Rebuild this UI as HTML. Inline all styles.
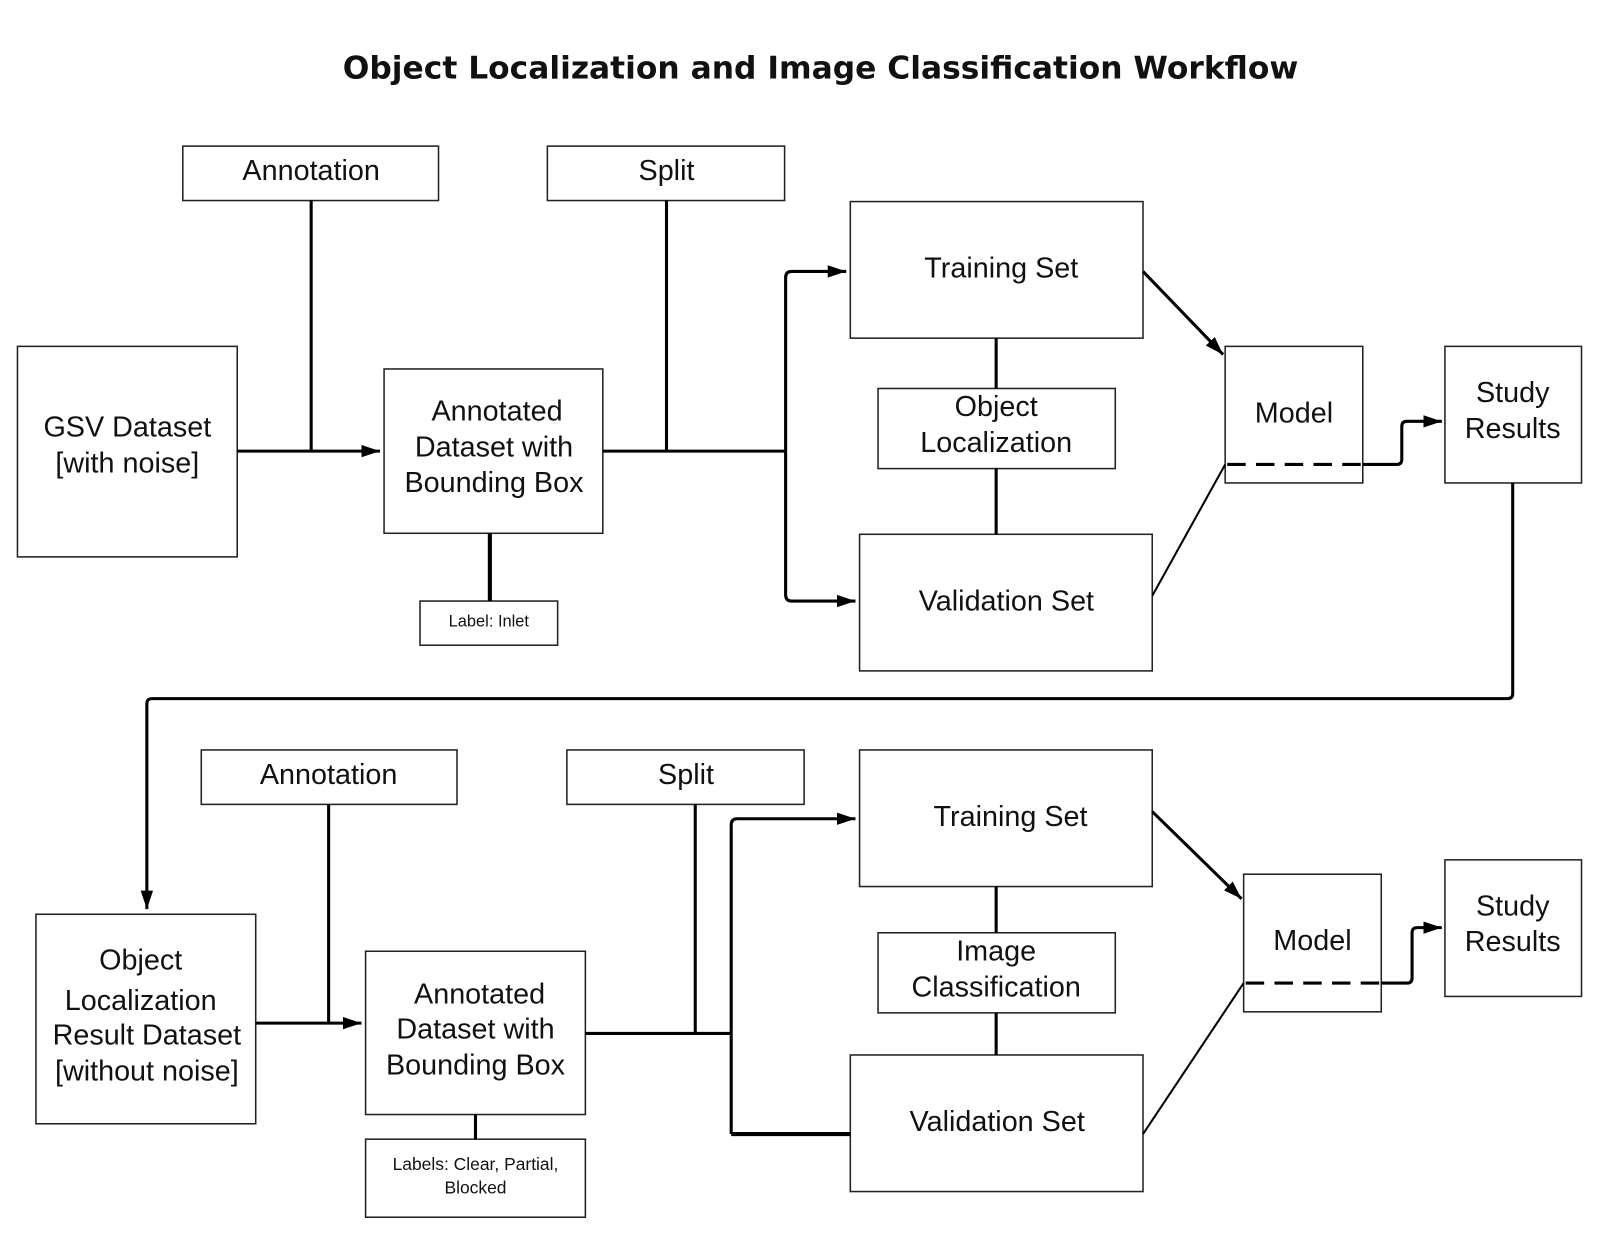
<!DOCTYPE html>
<html><head><meta charset="utf-8"><style>
html,body{margin:0;padding:0;background:#fff;}
svg{display:block;}
text{font-family:"Liberation Sans",sans-serif;fill:#111;text-anchor:middle;}
</style></head><body>
<svg width="1600" height="1236" viewBox="0 0 1558 1203" xmlns="http://www.w3.org/2000/svg">
<defs>
<marker id="b" viewBox="0 0 10 10" refX="10" refY="5" markerWidth="18" markerHeight="12" orient="auto" markerUnits="userSpaceOnUse" preserveAspectRatio="none"><path d="M0,0 L10,5 L0,10z" fill="#000"/></marker></defs>
<text x="799" y="76" style="font-family:'DejaVu Sans','Liberation Sans',sans-serif;font-weight:bold;font-size:30.5px">Object Localization and Image Classification Workflow</text>
<g fill="#fff" stroke="#222" stroke-width="1.5">
<rect x="178" y="142" width="249" height="53"/><rect x="533" y="142" width="231" height="53"/>
<rect x="17" y="337" width="214" height="205"/><rect x="374" y="359" width="213" height="160"/>
<rect x="409" y="585" width="134" height="43"/><rect x="828" y="196" width="285" height="133"/>
<rect x="855" y="378" width="231" height="78"/><rect x="837" y="520" width="285" height="133"/>
<rect x="1193" y="337" width="134" height="133"/><rect x="1407" y="337" width="133" height="133"/>
<rect x="196" y="730" width="249" height="53"/><rect x="552" y="730" width="231" height="53"/>
<rect x="35" y="890" width="214" height="204"/><rect x="356" y="926" width="214" height="159"/>
<rect x="356" y="1109" width="214" height="76"/><rect x="837" y="730" width="285" height="133"/>
<rect x="855" y="908" width="231" height="78"/><rect x="828" y="1027" width="285" height="133"/>
<rect x="1211" y="851" width="134" height="134"/><rect x="1407" y="837" width="133" height="133"/>
</g>
<g fill="none" stroke="#000" stroke-width="3">
<path d="M303 195V439"/><path d="M231 439H370" marker-end="url(#b)"/>
<path d="M649 195V439"/><path d="M587 439H765"/>
<path d="M765 439V270q0-6 6-6H824" marker-end="url(#b)"/><path d="M765 439V579q0 6 6 6H833" marker-end="url(#b)"/>
<path d="M970 329V378M970 456V520"/>
<path d="M1113 264L1191 345" marker-end="url(#b)"/>
<path d="M477 519V585" stroke-width="4"/>
<path d="M1327 452H1360q5 0 5-5V415q0-5 5-5H1404" marker-end="url(#b)"/>
<path d="M1473 470V675q0 5-5 5H148q-5 0-5 5V885" marker-end="url(#b)"/>
<path d="M320 783V996"/><path d="M249 996H352" marker-end="url(#b)"/>
<path d="M677 783V1006"/><path d="M570 1006H712"/>
<path d="M712 1104V803q0-6 6-6H833" marker-end="url(#b)"/><path d="M712 1104H828" stroke-width="4"/>
<path d="M970 863V908M970 986V1027"/>
<path d="M1122 790L1209 875" marker-end="url(#b)"/>
<path d="M463 1085V1109"/>
<path d="M1345 957H1370q5 0 5-5V908q0-5 5-5H1404" marker-end="url(#b)"/>
</g>
<g stroke="#000" stroke-width="2" fill="none">
<path d="M1122 580L1193 452"/><path d="M1113 1104L1211 957"/>
</g>
<g stroke="#000" stroke-width="3" stroke-dasharray="18,10"><path d="M1195 452H1327"/><path d="M1213 957H1345"/></g>
<g font-size="28">
<text x="303" y="175">Annotation</text><text x="649" y="175">Split</text>
<text x="124" y="425">GSV Dataset</text><text x="124" y="460">[with noise]</text>
<text x="484" y="409">Annotated</text><text x="481" y="444">Dataset with</text><text x="481" y="479">Bounding Box</text>
<text x="975" y="270">Training Set</text>
<text x="970" y="405">Object</text><text x="970" y="440">Localization</text>
<text x="980" y="594">Validation Set</text>
<text x="1260" y="411">Model</text>
<text x="1473" y="391">Study</text><text x="1473" y="426">Results</text>
<text x="320" y="763">Annotation</text><text x="668" y="763">Split</text>
<text x="137" y="944">Object</text><text x="137" y="983">Localization</text><text x="143" y="1017">Result Dataset</text><text x="143" y="1052">[without noise]</text>
<text x="467" y="977">Annotated</text><text x="463" y="1011">Dataset with</text><text x="463" y="1046">Bounding Box</text>
<text x="984" y="804">Training Set</text>
<text x="970" y="935">Image</text><text x="970" y="970">Classification</text>
<text x="971" y="1101">Validation Set</text>
<text x="1278" y="925">Model</text>
<text x="1473" y="891">Study</text><text x="1473" y="926">Results</text>
</g>
<text x="476" y="610" font-size="16">Label: Inlet</text>
<text x="463" y="1139" font-size="17">Labels: Clear, Partial,</text>
<text x="463" y="1162" font-size="17">Blocked</text>
</svg>
</body></html>
